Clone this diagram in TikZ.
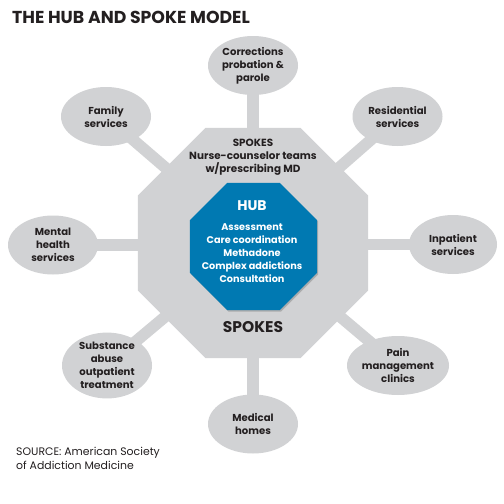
\documentclass[tikz,border=0pt]{standalone}
\usepackage{fontspec}
\setmainfont{Poppins}
\usetikzlibrary{shapes.geometric,shadows,backgrounds}
\definecolor{spokegray}{HTML}{D1D2D4}
\definecolor{hubblue}{HTML}{0079B2}
\definecolor{ink}{HTML}{231F20}
\tikzset{
  svc/.style={ellipse, fill=spokegray, minimum width=90pt, minimum height=59pt, inner sep=0pt,
    align=center, text=ink, font=\bfseries\fontsize{10.1}{13}\selectfont},
  bar/.style={draw=spokegray, line width=11.5pt},
  octtext/.style={align=center, text=ink, font=\bfseries\fontsize{10.4}{13}\selectfont},
  hubtext/.style={align=center, text=white, font=\bfseries\fontsize{9.7}{13}\selectfont},
}
\begin{document}
\begin{tikzpicture}[x=1pt,y=-1pt]
\useasboundingbox (0,0) rectangle (504,504);
% title
\node[anchor=base west, inner sep=0pt, text=ink, font=\bfseries\fontsize{17.3}{19}\selectfont] (title) at (12,23) {THE HUB AND SPOKE MODEL};
% octagon centre
\coordinate (oc) at (253,243);
% services
\node[svc] (corr) at (253,65.5) {Corrections\\probation \&\\parole};
\node[svc] (fam) at (106,116.5) {Family\\services};
\node[svc] (res) at (397.5,116.5) {Residential\\services};
\node[svc] (ment) at (53,245) {Mental\\health\\services};
\node[svc, minimum width=88pt] (inp) at (453,244.5) {Inpatient\\services};
\node[svc] (subs) at (107,365.5) {Substance\\abuse\\outpatient\\treatment};
\node[svc] (pain) at (398,365.5) {Pain\\management\\clinics};
\node[svc] (med) at (253,424) {Medical\\homes};
% big octagon
\node[regular polygon, regular polygon sides=8, minimum size=249pt, inner sep=0pt, outer sep=0pt, fill=spokegray] (oct) at (oc) {};
% spokes
\begin{scope}[on background layer]
\fill[white] (0,0) rectangle (504,504);
\draw[bar] (corr.center) -- (oct.center);
\draw[bar] (fam.center) -- (oct.center);
\draw[bar] (res.center) -- (oct.center);
\draw[bar] (ment.center) -- (ment.center -| oct.center);
\draw[bar] (inp.center) -- (inp.center -| oct.center);
\draw[bar] (subs.center) -- (oct.center);
\draw[bar] (pain.center) -- (oct.center);
\draw[bar] (med.center) -- (oct.center);
\end{scope}
% hub
\node[regular polygon, regular polygon sides=8, minimum size=137.5pt, inner sep=0pt, outer sep=0pt, fill=hubblue,
  drop shadow={opacity=0.35, shadow xshift=1.2pt, shadow yshift=-1.5pt, fill=black!60}] (hub) at (253.5,246.5) {};
% texts
\node[octtext] (sptop) at (253,157) {SPOKES\\Nurse-counselor teams\\w/prescribing MD};
\node[hubtext, font=\bfseries\fontsize{14}{16}\selectfont] (hubt) at (252,206) {HUB};
\node[hubtext] (hubl) at (252,253) {Assessment\\Care coordination\\Methadone\\Complex addictions\\Consultation};
\node[octtext, font=\bfseries\fontsize{15.5}{17}\selectfont] (spbot) at (253,327) {SPOKES};
\node[anchor=north west, align=left, inner sep=0pt, text=ink, font=\fontsize{10.9}{14}\selectfont] (src) at (16,447) {SOURCE: American Society\\of Addiction Medicine};
\end{tikzpicture}
\end{document}
